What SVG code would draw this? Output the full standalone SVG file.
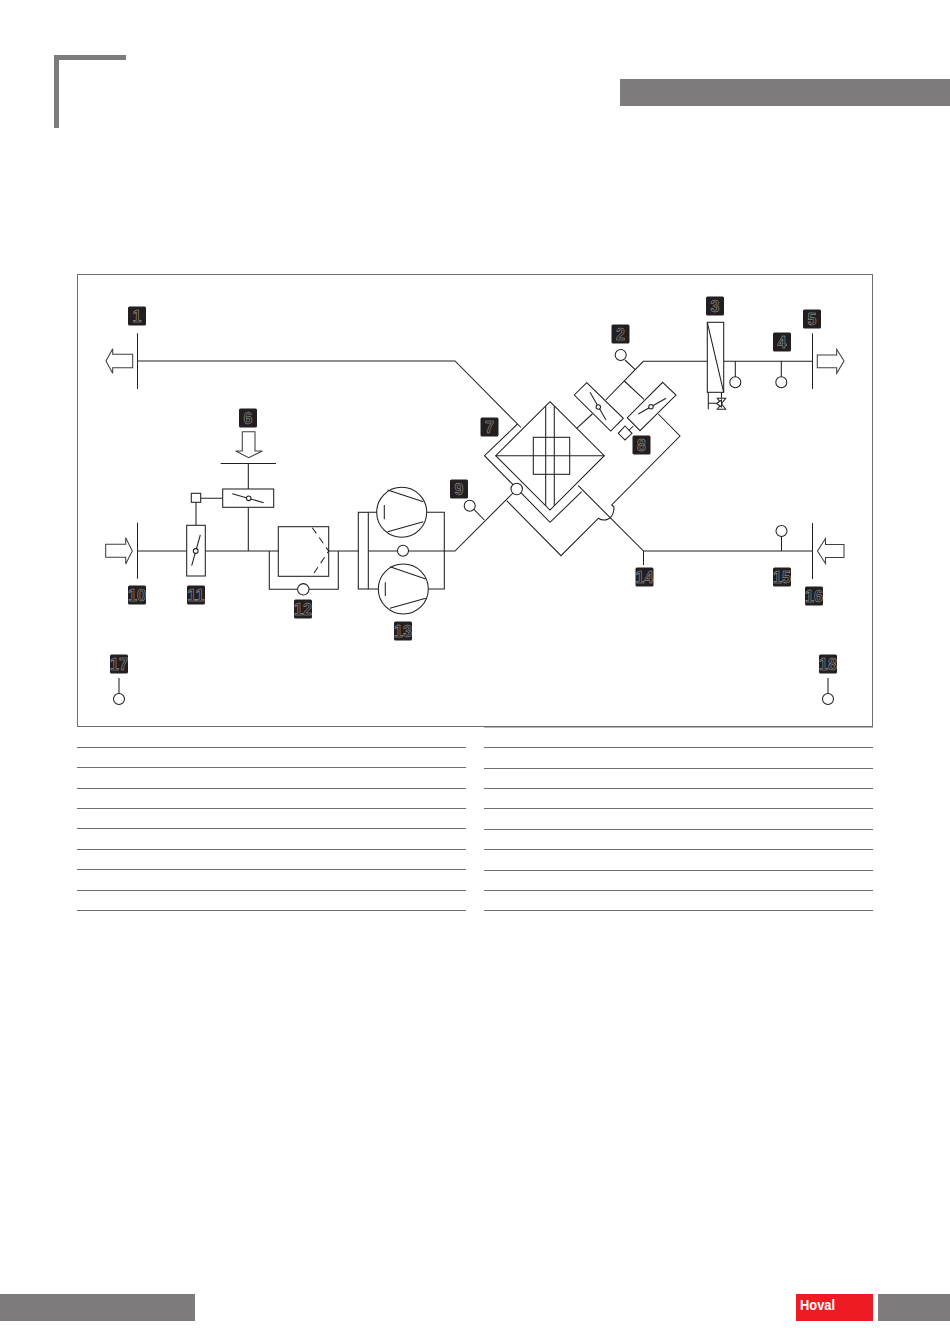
<svg xmlns="http://www.w3.org/2000/svg" width="950" height="1344" viewBox="0 0 950 1344">
<style>
.l{fill:none;stroke:#231f20;stroke-width:1.05}
.w{fill:#fff;stroke:#231f20;stroke-width:1.05}
.a{fill:#fff;stroke:#3f3f41;stroke-width:1.05}
.r{stroke:#6d6e70;stroke-width:1.2;fill:none}
.g{fill:#7d7b7c}
.b{fill:#231f20}
.n{font-family:"Liberation Sans",Arial,sans-serif;font-size:16px;font-weight:bold;text-anchor:middle;fill:none;stroke:#a8a8a8;stroke-width:.5}
.d{fill:none;stroke:#231f20;stroke-width:1.05;stroke-dasharray:7 5}
</style>
<defs>
<g id="badge"><rect x="-9" y="-9.5" width="18" height="19" rx="1.5" class="b"/></g>
</defs>
<rect width="950" height="1344" fill="#fff"/>
<g id="page">
<path class="g" d="M54 55H126V60H59V128H54Z"/>
<rect class="g" x="620" y="79" width="330" height="27"/>
<rect class="g" x="0" y="1294" width="195" height="27"/>
<rect class="g" x="878" y="1294" width="72" height="27"/>
<rect id="logo" x="796" y="1294" width="77" height="27" fill="#ed1c24"/>
<text x="800" y="1310" font-family="'Liberation Sans',Arial,sans-serif" font-size="15" font-weight="bold" fill="#fff" textLength="35" lengthAdjust="spacingAndGlyphs">Hoval</text>
<rect x="77.5" y="274.5" width="795" height="452" fill="none" stroke="#6d6e70" stroke-width="1"/>
</g>
<g id="table-rules">
<path class="r" d="M77 747.5H466M77 767.5H466M77 788.5H466M77 808.5H466M77 828.5H466M77 849.5H466M77 869.5H466M77 890.5H466M77 910.5H466"/>
<path class="r" d="M484 727H873M484 747.5H873M484 768.5H873M484 788.5H873M484 808.5H873M484 829.5H873M484 849.5H873M484 870.5H873M484 890.5H873M484 910.5H873"/>
</g>
<g id="connectors">
<path class="l" d="M137.5 361H455L521 427.5"/>
<path class="l" d="M517.5 424L484.5 455.7L550 522.3L581.7 491.7"/>
<path class="l" d="M578.3 485.7L643.5 551H812"/>
<path class="l" d="M643.5 551V565"/>
<path class="l" d="M506.7 500.7L561 555.7L598.3 518.3C604 522 614 520 614 507L611.7 505L680 436L658.3 414"/>
<path class="l" d="M137.5 551H186.7M205.3 551H278.3M248.3 463.5V489M248.3 507.3V551"/>
<path class="l" d="M200.7 498.3H222.7M196 502.3V525.3"/>
<path class="l" d="M269.3 551V589.3H338.3V551M328.7 551H358.3"/>
<path class="l" d="M368.3 551H455L513 493"/>
<path class="l" d="M368.3 512.3H378M426.7 512.3H444.3V589H428M368.3 589H378"/>
<path class="l" d="M474 509.3L484.3 520"/>
<path class="l" d="M576.7 428.3L592.3 414"/>
<path class="l" d="M605.7 400L643.3 361.3H707.3M625 360L635 369.3M624.3 381L644 399.3"/>
<path class="l" d="M616.7 425L621.7 420M629.3 430L633.3 426"/>
<path class="l" d="M723.7 361.3H812.5M735.3 361.3V377M781.3 361.3V377"/>
<path class="l" d="M781.5 536V551M119 678V693.5M828 678V693.5"/>
</g>
<g id="node-1"><path class="l" d="M137.5 333.3V389"/><path class="a" d="M132.7 354.3H112.7V348.7L106 361L112.7 373.3V367.7H132.7Z"/><use href="#badge" x="137" y="316"/><text class="n" x="137" y="322">1</text></g>
<g id="node-2"><circle class="w" cx="620.7" cy="355" r="5.5"/><use href="#badge" x="620.5" y="334"/><text class="n" x="620.5" y="340">2</text></g>
<g id="node-3"><rect class="w" x="707.3" y="322.3" width="16.4" height="70"/><path class="l" d="M707.3 322.3L723.7 392.3M708.3 392.3V409.3M708.3 403.3H716.5M721.5 392.3V398.3"/><path class="w" d="M717.3 398.3H725.7L717.3 409.3H725.7Z"/><path class="w" d="M716.5 403.5L721.5 400V407Z"/><use href="#badge" x="715" y="306"/><text class="n" x="715" y="312">3</text></g>
<g id="node-4"><circle class="w" cx="781.3" cy="382.3" r="5.5"/><use href="#badge" x="782" y="342"/><text class="n" x="782" y="348">4</text></g>
<g id="node-3b"><circle class="w" cx="735.3" cy="382.3" r="5.5"/></g>
<g id="node-5"><path class="l" d="M812.5 333.3V389"/><path class="a" d="M817.3 355H836.7V349.3L844 361L836.7 373.3V367.7H817.3Z"/><use href="#badge" x="812" y="319"/><text class="n" x="812" y="325">5</text></g>
<g id="node-6"><path class="a" d="M242.3 431.7H255V451H262.3L248.7 457.7L235.7 451H242.3Z"/><path class="l" d="M220.7 463.5H276"/><rect class="w" x="222.7" y="489" width="51" height="18.3"/><path class="l" d="M232.3 493.7L263.7 502.7"/><circle class="w" cx="248.7" cy="498.3" r="2.3"/><rect class="w" x="191.3" y="493.3" width="9.4" height="9"/><use href="#badge" x="248" y="418"/><text class="n" x="248" y="424">6</text></g>
<g id="node-7"><path class="w" d="M550 401.7L604.3 455.7L550 510L495.7 455.7Z"/><rect class="l" x="533.3" y="437.3" width="36.4" height="37"/><path class="l" d="M545.7 406V505.7M554.3 406V505.7M495.7 455.7H604.3"/><use href="#badge" x="489.5" y="427"/><text class="n" x="489.5" y="433">7</text></g>
<g id="node-8"><path class="w" d="M586.7 382.7L623.3 418.3L610.7 431L574.3 395Z"/><path class="l" d="M590 392.3L606 420"/><circle class="w" cx="598.3" cy="407" r="2.2"/><path class="w" d="M662.7 382.3L676 395L640 430.7L627.3 417.7Z"/><path class="l" d="M638.3 414L666 398.3"/><circle class="w" cx="651" cy="406.7" r="2.2"/><path class="w" d="M625 426L632 433.3L625 440L618.3 433.3Z"/><use href="#badge" x="641.5" y="445"/><text class="n" x="641.5" y="451">8</text></g>
<g id="node-9"><circle class="w" cx="469.7" cy="505.7" r="5.5"/><circle class="w" cx="516.7" cy="489" r="5.7"/><use href="#badge" x="459" y="489"/><text class="n" x="459" y="495">9</text></g>
<g id="node-10"><path class="l" d="M137.5 522.7V578.7"/><path class="a" d="M105.7 544.3H125.7V537.7L132.3 551L125.7 564V557.3H105.7Z"/><use href="#badge" x="137" y="595"/><text class="n" x="137" y="601">10</text></g>
<g id="node-11"><rect class="w" x="186.7" y="525.3" width="18.6" height="50.7"/><path class="l" d="M200.3 535L191.7 565.7"/><circle class="w" cx="195.7" cy="551" r="2.4"/><use href="#badge" x="196" y="595"/><text class="n" x="196" y="601">11</text></g>
<g id="node-12"><rect class="w" x="278.3" y="526.7" width="50.4" height="49.6"/><path class="d" d="M312.3 527.7L328.7 551L312.3 575.7"/><circle class="w" cx="303.3" cy="589.3" r="5.7"/><use href="#badge" x="303" y="609"/><text class="n" x="303" y="615">12</text></g>
<g id="node-13"><rect class="w" x="358.3" y="512.3" width="10" height="76.7"/><circle class="w" cx="401.7" cy="512.3" r="25"/><path class="l" d="M387.7 490L423.3 501.7M387.7 531.7L423.3 521.7M384.3 505V519.3"/><circle class="w" cx="403.3" cy="589" r="25"/><path class="l" d="M390 566.7L425.7 579M390 608.3L425.7 598.3M385.3 582.3V596"/><circle class="w" cx="403" cy="550.7" r="5.5"/><use href="#badge" x="403" y="631"/><text class="n" x="403" y="637">13</text></g>
<g id="node-14"><use href="#badge" x="644.5" y="577"/><text class="n" x="644.5" y="583">14</text></g>
<g id="node-15"><circle class="w" cx="781.5" cy="531" r="5.5"/><use href="#badge" x="782" y="577"/><text class="n" x="782" y="583">15</text></g>
<g id="node-16"><path class="l" d="M812.5 523V579"/><path class="a" d="M844 544.5H825.5V538.5L817.5 551L825.5 563.5V557.5H844Z"/><use href="#badge" x="814" y="596"/><text class="n" x="814" y="602">16</text></g>
<g id="node-17"><circle class="w" cx="119" cy="699" r="5.5"/><use href="#badge" x="119" y="664"/><text class="n" x="119" y="670">17</text></g>
<g id="node-18"><circle class="w" cx="828" cy="699" r="5.5"/><use href="#badge" x="828" y="664"/><text class="n" x="828" y="670">18</text></g>
</svg>
